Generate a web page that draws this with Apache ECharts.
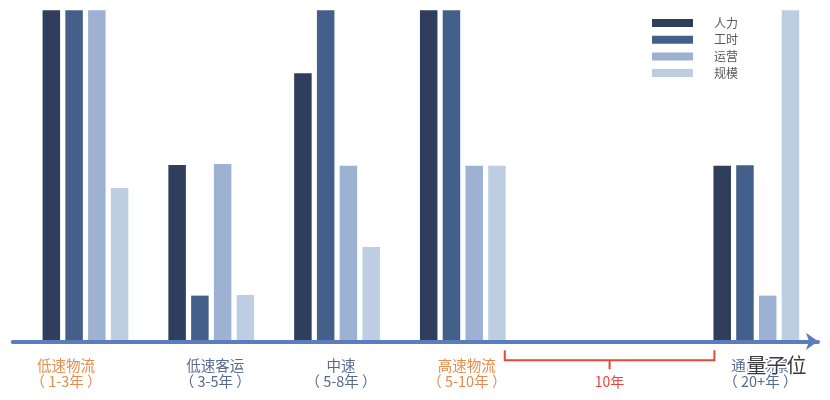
<!DOCTYPE html>
<html>
<head>
<meta charset="utf-8">
<script src="https://cdn.jsdelivr.net/npm/echarts@6/dist/echarts.min.js"></script>
<style>html,body{margin:0;padding:0;background:#fff;}#c{width:830px;height:400px;}</style>
</head>
<body>
<div id="c"></div>
<script>
// ---- data ----
const categories = ['低速物流\n（ 1-3年 ）', '低速客运\n（ 3-5年 ）', '中速\n（ 5-8年 ）', '高速物流\n（ 5-10年 ）', '通用场景\n（ 20+年 ）'];
const seriesNames = ['人力', '工时', '运营', '规模'];
const labor     = [10, 5.33, 8.1, 10, 5.3];
const hours     = [10, 1.38, 10, 10, 5.32];
const operation = [10, 5.36, 5.3, 5.3, 1.38];
const scale     = [4.63, 1.4, 2.85, 5.3, 10];
const spanLabel = '10年';
const watermark = '量子位';

// ---- layout helpers (slots on the category axis) ----
const SLOTS_PER_GROUP = 3;
const LONG_GAP_SLOTS = 7; // the "10年" stretch before the last group
const groupSlot = categories.map((c, i) => i < categories.length - 1 ? i * SLOTS_PER_GROUP : (i - 1) * SLOTS_PER_GROUP + LONG_GAP_SLOTS);
const nSlots = groupSlot[groupSlot.length - 1] + 1;
const axisData = new Array(nSlots).fill('');
groupSlot.forEach((s, i) => { axisData[s] = categories[i]; });
function spread(arr) {
  const out = new Array(nSlots).fill('-');
  groupSlot.forEach((s, i) => { out[s] = arr[i]; });
  return out;
}
const allValues = [labor, hours, operation, scale];
const colors = ['#2E3E5C', '#445F8A', '#9DB2D2', '#BECEE2'];
const orangeGroups = new Set([0, 3]);

const chart = echarts.init(document.getElementById('c'), null, {renderer: 'canvas'});
const FONT = '"Noto Sans CJK SC", "Microsoft YaHei", sans-serif';

const rich = {
  o: {color: '#E38C4E', fontSize: 14.5, lineHeight: 16, fontFamily: FONT, padding: [0, 0, 0, 8]},
  b: {color: '#566A90', fontSize: 14.5, lineHeight: 16, fontFamily: FONT, padding: [0, 0, 0, 8]},
  o0: {color: '#E38C4E', fontSize: 14.5, lineHeight: 16, fontFamily: FONT, padding: [0, 39, 0, 0]}
};

const barSeries = seriesNames.map((name, k) => ({
  name: name,
  type: 'bar',
  xAxisIndex: 0, yAxisIndex: 0,
  data: spread(allValues[k]),
  barWidth: 17.5,
  barGap: '30%',
  clip: false,
  itemStyle: {color: colors[k]},
  z: 2
}));

const bracketSeries = {
  type: 'custom',
  xAxisIndex: 0, yAxisIndex: 0,
  clip: false,
  silent: true,
  data: [[groupSlot[3] + 1, groupSlot[4] - 1, 0]],
  encode: {x: [0, 1], y: 2},
  renderItem: function (params, api) {
    const p1 = api.coord([api.value(0), 0]);
    const p2 = api.coord([api.value(1), 0]);
    const y = p1[1];
    const x1 = p1[0], x2 = p2[0], xm = (x1 + x2) / 2;
    const red = '#E5473A';
    return {
      type: 'group',
      children: [
        {type: 'polyline', shape: {points: [[x1, y + 9], [x1, y + 19], [x2, y + 19], [x2, y + 9]]},
         style: {stroke: red, lineWidth: 2, fill: null}},
        {type: 'line', shape: {x1: xm, y1: y + 19, x2: xm, y2: y + 28}, style: {stroke: red, lineWidth: 2}},
        {type: 'text', style: {text: spanLabel, x: xm, y: y + 40.5, align: 'center', verticalAlign: 'middle',
          fill: red, fontSize: 14, fontFamily: FONT}}
      ]
    };
  },
  z: 3
};

const option = {
  animation: false,
  backgroundColor: '#fff',
  color: colors,
  legend: {
    data: seriesNames,
    orient: 'vertical',
    left: 647,
    top: 12,
    itemWidth: 41,
    itemHeight: 8,
    itemGap: 4.7,
    icon: 'rect',
    textStyle: {color: '#595959', fontSize: 12, fontFamily: FONT, padding: [0, 0, 0, 16]}
  },
  grid: [
    {left: 64.5, right: 52.7, top: 10.3, bottom: 58.7},
    {left: 12.7, right: 12, top: 10.3, bottom: 58.7}
  ],
  xAxis: [
    {
      type: 'category', gridIndex: 0, data: axisData,
      axisLine: {show: false}, axisTick: {show: false},
      axisLabel: {
        interval: 0, margin: 15.7,
        formatter: function (v, idx) {
          if (!v) return '';
          const gi = groupSlot.indexOf(idx);
          const key = gi === 0 ? 'o0' : (orangeGroups.has(gi) ? 'o' : 'b');
          return v.split('\n').map(s => '{' + key + '|' + s + '}').join('\n');
        },
        rich: rich
      }
    },
    {
      type: 'value', gridIndex: 1, min: 0, max: 1, z: 10,
      axisLine: {show: true, onZero: false, symbol: ['none', 'arrow'], symbolSize: [13, 12],
        lineStyle: {color: '#5B7DBE', width: 4}},
      axisTick: {show: false}, axisLabel: {show: false}, splitLine: {show: false}
    }
  ],
  yAxis: [
    {type: 'value', gridIndex: 0, min: 0, max: 10, show: false},
    {type: 'value', gridIndex: 1, min: 0, max: 1, show: false}
  ],
  graphic: [
    {type: 'text', left: 745, top: 354, z: 100,
     style: {text: watermark, fontSize: 20, fill: '#3a3a3a', stroke: '#fff', lineWidth: 3, fontFamily: FONT}}
  ],
  series: barSeries.concat([bracketSeries])
};
chart.setOption(option);
</script>
</body>
</html>
